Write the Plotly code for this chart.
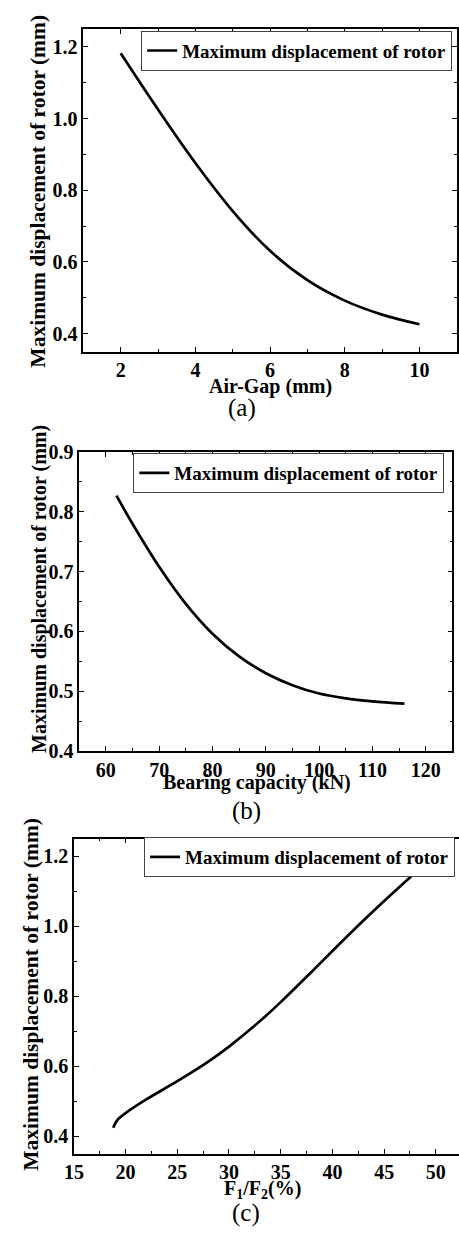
import plotly.graph_objects as go

# ---------------- data ----------------
air_gap = [2, 3, 4, 5, 6, 7, 8, 9, 10]
disp_air_gap = [1.182, 1.025, 0.876, 0.742, 0.631, 0.549, 0.492, 0.453, 0.426]

bearing_cap = [62, 65, 70, 75, 80, 85, 90, 95, 100, 105, 110, 116]
disp_bearing = [0.827, 0.780, 0.708, 0.646, 0.596, 0.558, 0.530, 0.510, 0.496, 0.488, 0.483, 0.479]

f_ratio = [18.8, 19.2, 20, 22, 25, 28, 30, 33, 35, 38, 40, 43, 45, 48, 50]
disp_ratio = [0.424, 0.446, 0.466, 0.505, 0.557, 0.613, 0.656, 0.729, 0.783, 0.870, 0.929, 1.016, 1.072, 1.153, 1.206]

series_name = "Maximum displacement of rotor"
y_title = "Maximum displacement of rotor (mm)"
x_titles = ["Air-Gap (mm)", "Bearing capacity (kN)", "F<sub>1</sub>/F<sub>2</sub>(%)"]
panel_labels = ["(a)", "(b)", "(c)"]

W, H = 459, 1238
FONT = "Liberation Serif, Times New Roman, serif"


def px_x(p):
    return p / W


def px_y(p):
    return 1 - p / H


fig = go.Figure()

line_style = dict(color="black", width=2.7, shape="spline", smoothing=1.0)
fig.add_trace(go.Scatter(x=air_gap, y=disp_air_gap, mode="lines", name=series_name,
                         line=line_style, xaxis="x", yaxis="y", legend="legend"))
fig.add_trace(go.Scatter(x=bearing_cap, y=disp_bearing, mode="lines", name=series_name,
                         line=line_style, xaxis="x2", yaxis="y2", legend="legend2"))
fig.add_trace(go.Scatter(x=f_ratio, y=disp_ratio, mode="lines", name=series_name,
                         line=line_style, xaxis="x3", yaxis="y3", legend="legend3"))

tickfont = dict(family=FONT, size=20, color="black", weight="bold")


def axis_common(**kw):
    d = dict(showline=True, linecolor="black", linewidth=1.5, ticks="inside", ticklen=5,
             tickwidth=1.3, tickcolor="black", mirror="ticks", showgrid=False, zeroline=False,
             tickfont=tickfont,
             minor=dict(ticks="inside", ticklen=3, tickwidth=1.2, tickcolor="black", showgrid=False))
    d.update(kw)
    return d


# panel frames in pixels: (left, right, top, bottom)
frames = [(75, 456.7, 18.3, 346.7), (70.7, 452.3, 449, 753.3), (65.3, 459, 842.7, 1163.3)]

fig.update_layout(
    xaxis=axis_common(domain=[px_x(frames[0][0]), px_x(frames[0][1])], range=[1, 11],
                      tick0=0, dtick=2, anchor="y", minor_dtick=1),
    yaxis=axis_common(domain=[px_y(frames[0][3]), px_y(frames[0][2])], range=[0.35, 1.25],
                      tick0=0, dtick=0.2, tickformat=".1f", anchor="x", minor_dtick=0.1),
    xaxis2=axis_common(domain=[px_x(frames[1][0]), px_x(frames[1][1])], range=[55, 125],
                       tick0=0, dtick=10, anchor="y2", minor_dtick=5),
    yaxis2=axis_common(domain=[px_y(frames[1][3]), px_y(frames[1][2])], range=[0.4, 0.9],
                       tick0=0, dtick=0.1, tickformat=".1f", anchor="x2", minor_dtick=0.05),
    xaxis3=axis_common(domain=[px_x(frames[2][0]), 1.0], range=[15, 52.24],
                       tick0=0, dtick=5, anchor="y3", minor_dtick=2.5),
    yaxis3=axis_common(domain=[px_y(frames[2][3]), px_y(frames[2][2])], range=[0.35, 1.25],
                       tick0=0, dtick=0.2, tickformat=".1f", anchor="x3", minor_dtick=0.1,
                       mirror=False),
)

legend_style = dict(bgcolor="white", bordercolor="#444444", borderwidth=1,
                    font=dict(family=FONT, size=19, color="black", weight="bold"),
                    xanchor="right", yanchor="top", tracegroupgap=0)
fig.update_layout(
    legend=dict(x=px_x(452), y=px_y(20), **legend_style),
    legend2=dict(x=px_x(444), y=px_y(450), **legend_style),
    legend3=dict(x=px_x(455), y=px_y(841), **legend_style),
)

annotations = []
# y axis titles
for (cx, cy, sz) in [(28.5, 183, 21.5), (30, 588, 20), (21.5, 1001.5, 21.5)]:
    annotations.append(dict(text="<b>" + y_title + "</b>", x=px_x(cx), y=px_y(cy),
                            xref="paper", yref="paper", showarrow=False, textangle=-90,
                            xanchor="center", yanchor="middle",
                            font=dict(family=FONT, size=sz, color="black")))
# x axis titles
for t, (cx, cy) in zip(x_titles, [(266, 382), (252.5, 785), (258, 1200)]):
    annotations.append(dict(text="<b>" + t + "</b>", x=px_x(cx), y=px_y(cy),
                            xref="paper", yref="paper", showarrow=False,
                            xanchor="center", yanchor="middle",
                            font=dict(family=FONT, size=20, color="black")))
# panel labels
for t, (cx, cy) in zip(panel_labels, [(237, 404), (242, 814), (241, 1224)]):
    annotations.append(dict(text=t, x=px_x(cx), y=px_y(cy),
                            xref="paper", yref="paper", showarrow=False,
                            xanchor="center", yanchor="middle",
                            font=dict(family=FONT, size=25, color="black")))

fig.update_layout(
    annotations=annotations,
    width=W, height=H,
    margin=dict(l=0, r=0, t=0, b=0),
    paper_bgcolor="white", plot_bgcolor="white",
    showlegend=True,
)

fig.write_html("out.html")
